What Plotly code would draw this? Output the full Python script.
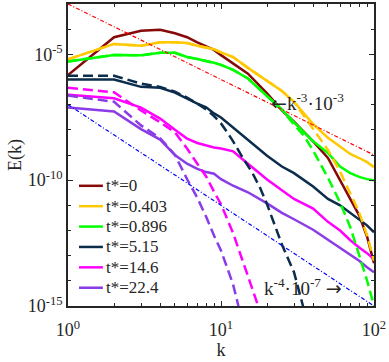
import plotly.graph_objects as go

k_full = [1, 2, 3, 4, 5, 6, 7, 8, 9, 10, 12, 15, 20, 25, 30, 40, 50, 60, 70, 80, 90, 100]

# solid curves (legend entries)
E_t0 = [1.5e-6, 4.8e-5, 8.7e-5, 9.5e-5, 6.9e-5, 4.8e-5, 3.0e-5, 2.1e-5, 1.5e-5, 9.3e-6, 4.2e-6,
        1.7e-6, 2.8e-7, 5.9e-8, 2.1e-8, 3.5e-9, 7.6e-10, 1.0e-10, 2.0e-11, 4.0e-12, 5.8e-13, 5.0e-14]
E_t0403 = [6.3e-6, 2.6e-5, 2.2e-5, 3.0e-5, 3.0e-5, 2.8e-5, 2.2e-5, 1.9e-5, 1.6e-5, 1.2e-5, 7.8e-6,
           2.9e-6, 8.9e-7, 3.5e-7, 1.3e-7, 1.7e-8, 4.8e-9, 2.1e-9, 1.1e-9, 7.6e-10, 5.2e-10, 3.3e-10]
E_t0896 = [5.2e-6, 9.5e-6, 9.1e-6, 1.15e-5, 1.15e-5, 7.8e-6, 6.5e-6, 5.5e-6, 4.6e-6, 3.8e-6, 2.4e-6,
           1.1e-6, 2.1e-7, 6.3e-8, 2.0e-8, 3.5e-9, 1.2e-9, 3.5e-10, 1.9e-10, 1.35e-10, 1.1e-10, 1.0e-10]
E_t515 = [1.0e-6, 1.0e-6, 5.1e-7, 4.7e-7, 3.0e-7, 1.7e-7, 1.1e-7, 7.8e-8, 4.5e-8, 3.1e-8, 1.26e-8,
          3.9e-9, 9.3e-10, 3.5e-10, 1.9e-10, 5.6e-11, 1.8e-11, 1.0e-11, 5.0e-12, 2.8e-12, 1.6e-12, 8.5e-13]
E_t146 = [2.5e-7, 1.8e-7, 7.6e-8, 2.8e-8, 1.0e-8, 4.5e-9, 3.0e-9, 2.4e-9, 2.0e-9, 1.8e-9, 1.4e-9,
          4.5e-10, 1.07e-10, 4.0e-11, 1.8e-11, 7.4e-12, 2.2e-12, 1.0e-12, 4.1e-13, 2.1e-13, 1.26e-13, 7.2e-14]
E_t224 = [7.8e-8, 5.4e-8, 1.07e-8, 4.1e-9, 1.0e-9, 4.5e-10, 2.8e-10, 2.1e-10, 1.8e-10, 1.1e-10, 6.0e-11,
          3.3e-11, 1.2e-11, 5.0e-12, 2.8e-12, 1.07e-12, 4.3e-13, 2.1e-13, 1.1e-13, 6.3e-14, 3.5e-14, 2.2e-14]

# dashed curves (no legend)
k_d0403 = [1, 2, 3, 4, 5, 6, 7, 8, 9, 10, 12, 15, 20, 25, 30, 40, 50, 60, 70, 80, 90, 100]
E_d0403 = [6.3e-6, 2.6e-5, 2.2e-5, 3.0e-5, 3.0e-5, 2.8e-5, 2.2e-5, 1.9e-5, 1.6e-5, 1.2e-5, 7.8e-6,
           2.9e-6, 8.9e-7, 3.5e-7, 1.3e-7, 1.15e-8, 1.6e-9, 2.2e-10, 3.2e-11, 5.2e-12, 6.6e-13, 6.3e-14]
k_d0896 = [1, 2, 3, 4, 5, 6, 7, 8, 9, 10, 12, 15, 20, 25, 30, 35, 40, 50, 60, 70, 80, 90, 100]
E_d0896 = [5.2e-6, 9.5e-6, 9.1e-6, 1.15e-5, 1.15e-5, 7.8e-6, 6.5e-6, 5.5e-6, 4.6e-6, 3.8e-6, 2.4e-6,
           1.1e-6, 2.1e-7, 6.3e-8, 1.6e-8, 5.6e-9, 1.5e-9, 1.26e-10, 1.3e-11, 1.35e-12, 1.05e-13,
           1.05e-14, 1.0e-15]
k_d515 = [1, 2, 3, 4, 5, 6, 7, 8, 9, 10, 11, 12, 14, 16, 18, 20, 25, 30, 34, 35]
E_d515 = [1.4e-6, 1.4e-6, 6.9e-7, 5.1e-7, 3.3e-7, 1.9e-7, 1.1e-7, 6.5e-8, 3.5e-8, 1.8e-8, 7.9e-9,
          3.5e-9, 7.1e-10, 2.0e-10, 5.0e-11, 1.1e-11, 2.8e-13, 2.2e-14, 1.26e-15, 6.3e-16]
k_d146 = [1, 2, 3, 4, 5, 6, 7, 8, 9, 10, 12, 14, 16, 17.5]
E_d146 = [4.7e-7, 3.1e-7, 5.9e-8, 2.0e-8, 7.9e-9, 1.8e-9, 4.5e-10, 1.4e-10, 3.5e-11, 1.1e-11,
          7.9e-13, 5.0e-14, 5.0e-15, 1.0e-15]
k_d224 = [1, 2, 3, 4, 5, 6, 7, 8, 9, 10, 11, 12, 13]
E_d224 = [2.3e-7, 1.3e-7, 1.5e-8, 4.7e-9, 1.0e-9, 1.1e-10, 2.0e-11, 3.5e-12, 6.3e-13, 1.6e-13,
          3.2e-14, 7.1e-15, 1.0e-15]

# reference slopes
k_ref = [1, 100]
E_ref3 = [1e-3, 1e-9]    # k^-3 * 1e-3
E_ref4 = [1e-7, 1e-15]   # k^-4 * 1e-7

labels = ["t*=0", "t*=0.403", "t*=0.896", "t*=5.15", "t*=14.6", "t*=22.4"]
colors = ["#870808", "#ffc800", "#00ff00", "#0c2c4c", "#ff00ff", "#8a3ce6"]
solid = [E_t0, E_t0403, E_t0896, E_t515, E_t146, E_t224]
dashed = [(k_d0403, E_d0403, colors[1]), (k_d0896, E_d0896, colors[2]),
          (k_d515, E_d515, colors[3]), (k_d146, E_d146, colors[4]),
          (k_d224, E_d224, colors[5])]

font = "Liberation Serif, Times New Roman, serif"
ink = "#262626"

fig = go.Figure()

for lab, col, E in zip(labels, colors, solid):
    fig.add_trace(go.Scatter(x=k_full, y=E, mode="lines", name=lab, showlegend=False,
                             line=dict(color=col, width=2.5)))

for kk, E, col in dashed:
    fig.add_trace(go.Scatter(x=kk, y=E, mode="lines", showlegend=False,
                             line=dict(color=col, width=2.5, dash="10px,5px")))

fig.add_trace(go.Scatter(x=k_ref, y=E_ref3, mode="lines", showlegend=False,
                         line=dict(color="#ff0000", width=1.2, dash="4px,2px,1px,2px")))
fig.add_trace(go.Scatter(x=k_ref, y=E_ref4, mode="lines", showlegend=False,
                         line=dict(color="#0000ff", width=1.2, dash="4px,2px,1px,2px")))

# compact legend (plotly's own legend rows are too tall for this layout)
row0, row_step = 0.398, 0.0675
for i, (lab, col) in enumerate(zip(labels, colors)):
    yy = row0 - i * row_step
    fig.add_shape(type="line", xref="paper", yref="paper", x0=0.036, x1=0.114, y0=yy, y1=yy,
                  line=dict(color=col, width=2.5))
    fig.add_annotation(xref="paper", yref="paper", x=0.118, y=yy, text=lab, showarrow=False,
                       xanchor="left", yanchor="middle",
                       font=dict(family=font, size=17, color=ink))

arrow_l = "<span style='font-family:DejaVu Sans'>\u2190</span>"
arrow_r = "<span style='font-family:DejaVu Sans'>\u2192</span>"
fig.add_annotation(x=1.315, y=-6.9, text=arrow_l + "k<sup>-3</sup>\u00b710<sup>-3</sup>",
                   showarrow=False, xanchor="left", yanchor="middle",
                   font=dict(family=font, size=19, color=ink))
fig.add_annotation(x=1.265, y=-14.25, text="k<sup>-4</sup>\u00b710<sup>-7</sup> " + arrow_r,
                   showarrow=False, xanchor="left", yanchor="middle",
                   font=dict(family=font, size=19, color=ink))

axis_common = dict(showline=True, linecolor=ink, linewidth=1.5, mirror="allticks",
                   ticks="inside", ticklen=5, tickcolor=ink, tickwidth=1,
                   showgrid=False, zeroline=False,
                   tickfont=dict(family=font, size=18, color=ink))

fig.update_xaxes(type="log", range=[0, 2],
                 tickvals=[1, 10, 100],
                 ticktext=["10<sup>0</sup>", "10<sup>1</sup>", "10<sup>2</sup>"],
                 ticklabelstandoff=7,
                 minor=dict(tickvals=[2, 3, 4, 5, 6, 7, 8, 9, 20, 30, 40, 50, 60, 70, 80, 90],
                            ticks="inside", ticklen=3, tickcolor=ink),
                 title=dict(text="k", font=dict(family=font, size=18, color=ink), standoff=0),
                 **axis_common)
fig.update_yaxes(type="log", range=[-15, -3],
                 tickvals=[1e-15, 1e-10, 1e-5],
                 ticktext=["10<sup>-15</sup>", "10<sup>-10</sup>", "10<sup>-5</sup>"],
                 minor=dict(tickvals=[1e-14, 1e-13, 1e-12, 1e-11, 1e-9, 1e-8, 1e-7, 1e-6, 1e-4],
                            ticks="inside", ticklen=3, tickcolor=ink),
                 title=dict(text="E(k)", font=dict(family=font, size=18, color=ink), standoff=2),
                 **axis_common)

fig.update_layout(
    width=389, height=362,
    margin=dict(l=68, r=15, t=2, b=56),
    plot_bgcolor="white", paper_bgcolor="white",
    showlegend=False,
)

# drop the browser's default body margin so the figure sits at the window origin
fig.write_html("out.html", config={"displayModeBar": False},
               post_script="document.body.style.margin='0';")
